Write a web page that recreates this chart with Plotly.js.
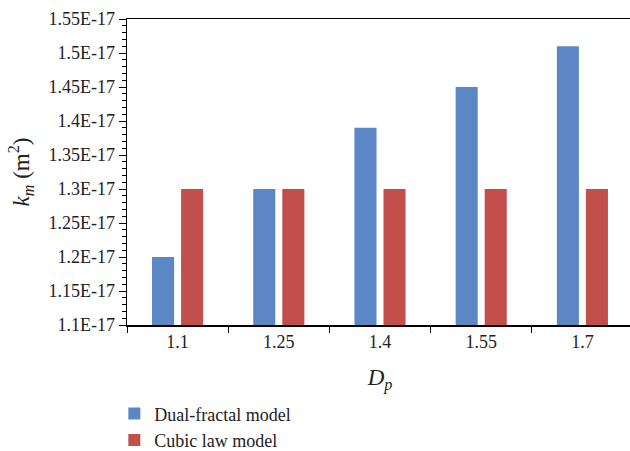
<!DOCTYPE html>
<html>
<head>
<meta charset="utf-8">
<script src="https://cdn.plot.ly/plotly-3.0.1.min.js"></script>
<style>
html,body{margin:0;padding:0;overflow:hidden;background:#fff;width:630px;height:451px;}
#chart{width:640px;height:451px;}
</style>
</head>
<body>
<div id="chart"></div>
<script>
const categories = ["1.1", "1.25", "1.4", "1.55", "1.7"];
const dualFractal = [1.20e-17, 1.30e-17, 1.39e-17, 1.45e-17, 1.51e-17];
const cubicLaw = [1.30e-17, 1.30e-17, 1.30e-17, 1.30e-17, 1.30e-17];
const yTickVals = [1.10e-17, 1.15e-17, 1.20e-17, 1.25e-17, 1.30e-17, 1.35e-17, 1.40e-17, 1.45e-17, 1.50e-17, 1.55e-17];
const yTickText = ["1.1E-17", "1.15E-17", "1.2E-17", "1.25E-17", "1.3E-17", "1.35E-17", "1.4E-17", "1.45E-17", "1.5E-17", "1.55E-17"];

const font = "Liberation Serif";

const data = [
  {type: "bar", name: "Dual-fractal model", x: categories, y: dualFractal, marker: {color: "#5b87c5"}},
  {type: "bar", name: "Cubic law model", x: categories, y: cubicLaw, marker: {color: "#c24f4c"}}
];

const layout = {
  width: 640, height: 451,
  margin: {l: 127, r: 7, t: 19, b: 126, autoexpand: false},
  paper_bgcolor: "#fff", plot_bgcolor: "#fff",
  font: {family: font, size: 18, color: "#222"},
  barmode: "group", bargap: 0.426, bargroupgap: 0.24,
  xaxis: {
    type: "category",
    showline: true, linecolor: "#000", linewidth: 1.5, mirror: true,
    ticks: "outside", ticklen: 6, tickcolor: "#000", tickson: "boundaries",
    showgrid: false, zeroline: false,
    tickfont: {family: font, size: 18, color: "#222"},
    title: {text: "<i>D</i><sub><i>p</i></sub>", font: {family: font, size: 23, color: "#222"}, standoff: 18}
  },
  yaxis: {
    range: [1.10e-17, 1.55e-17],
    tickvals: yTickVals, ticktext: yTickText,
    showline: true, linecolor: "#000", linewidth: 1.5,
    ticks: "outside", ticklen: 7, tickcolor: "#000",
    minor: {dtick: 0.01e-17, tick0: 1.10e-17, ticks: "outside", ticklen: 4, tickcolor: "#000", showgrid: false},
    showgrid: false, zeroline: false,
    tickfont: {family: font, size: 18, color: "#222"},
    title: {text: "<i>k</i><sub><i>m</i></sub> (m<sup>2</sup>)", font: {family: font, size: 23, color: "#222"}, standoff: 12}
  },
  showlegend: true,
  legend: {
    orientation: "v", x: -0.025, xanchor: "left", y: -0.23, yanchor: "top",
    font: {family: font, size: 18, color: "#222"},
    tracegroupgap: 0, itemwidth: 30
  }
};

Plotly.newPlot("chart", data, layout, {displayModeBar: false, staticPlot: true});
</script>
</body>
</html>
